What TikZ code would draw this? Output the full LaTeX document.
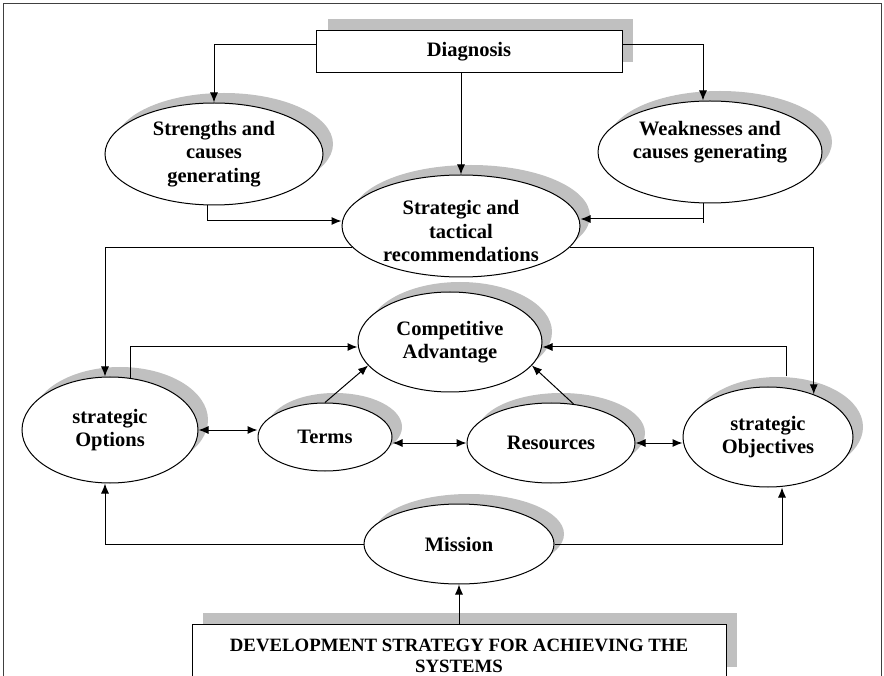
\documentclass[tikz,border=0pt]{standalone}
\usepackage{fontspec}
\setmainfont{Liberation Serif}
\usetikzlibrary{arrows.meta,shapes.geometric,calc}
\definecolor{shd}{RGB}{192,192,192}
\newcommand\shadowell[4]{\fill[shd] (#1+10,#2-10) ellipse [x radius=#3pt, y radius=#4pt];}
\begin{document}
\begin{tikzpicture}[x=1pt,y=-1pt,
  every node/.style={font=\fontsize{20.5}{23.5}\selectfont\bfseries, align=center, inner sep=0pt},
  ell/.style={draw, line width=1pt, fill=white, ellipse},
  boxnode/.style={draw, line width=1pt, fill=white, rectangle},
  conn/.style={line width=1pt},
  arr/.style={conn, -{Latex[length=10pt,width=8pt]}},
  darr/.style={conn, {Latex[length=10pt,width=8pt]}-{Latex[length=10pt,width=8pt]}},
  devfont/.style={font=\fontsize{18.8}{20.5}\selectfont\bfseries}
]
\useasboundingbox (0,0) rectangle (884,676);
% frame
\draw[line width=0.8pt, black!75] (3,676) -- (3,3) -- (881,3) -- (881,676);

% shadows
\fill[shd] (328,19) rectangle (633,62);
\shadowell{214}{154}{109}{51}
\shadowell{710}{152}{112}{51}
\shadowell{461}{226}{119}{51}
\shadowell{450}{342}{92}{50}
\shadowell{110}{430}{88}{53}
\shadowell{325}{437}{67}{34}
\shadowell{551}{443}{84}{40}
\shadowell{768}{437}{85}{50}
\shadowell{459}{544}{95}{40}
\fill[shd] (203,613) rectangle (737,667);

% nodes
\node[boxnode, minimum width=306pt, minimum height=42pt] (diag) at (469,52) {Diagnosis};
\node[ell, minimum width=218pt, minimum height=102pt] (str) at (214,154) {Strengths and\\causes\\generating};
\node[ell, minimum width=224pt, minimum height=102pt] (wk) at (710,152) {};
\node (wktxt) at (710,142) {Weaknesses and\\causes generating};
\node[ell, minimum width=238pt, minimum height=102pt] (strat) at (461,226) {};
\node (strattxt) at (461,231) {Strategic and\\tactical\\recommendations};
\node[ell, minimum width=184pt, minimum height=100pt] (comp) at (450,342) {Competitive\\Advantage};
\node[ell, minimum width=176pt, minimum height=106pt] (opt) at (110,430) {strategic\\Options};
\node[ell, minimum width=134pt, minimum height=68pt] (terms) at (325,437) {Terms};
\node[ell, minimum width=168pt, minimum height=80pt] (res) at (551,443) {Resources};
\node[ell, minimum width=170pt, minimum height=100pt] (obj) at (768,437) {strategic\\Objectives};
\node[ell, minimum width=190pt, minimum height=80pt] (mis) at (459,544) {Mission};
\node[boxnode, minimum width=534pt, minimum height=54pt] (dev) at (459,651) {};
\node[devfont] (devtxt) at (459,656) {DEVELOPMENT STRATEGY FOR ACHIEVING THE\\SYSTEMS};

% connectors
\draw[arr] ([yshift=7pt]diag.west) -| (str.north);
\draw[arr] ([yshift=7pt]diag.east) -| ([xshift=-7pt]wk.north);
\draw[arr] (diag.south -| strat.north) -- (strat.north);
\draw[arr] ([xshift=-7pt]str.south) |- ([yshift=5pt]strat.west);
\draw[conn] ([xshift=-7pt]wk.south) -- ([xshift=-7pt,yshift=-20pt]wk.south);
\draw[arr] ([xshift=-7pt]wk.south) |- ([yshift=7pt]strat.east);
\draw[arr] (strat.191) -| ([xshift=-5pt]opt.north);
\draw[arr] (strat.349) -| (obj.43);
\draw[arr] (opt.69) |- ([yshift=-5pt]comp.west);
\draw[arr] ([shift={(18pt,10pt)}]obj.north) |- ([yshift=-5pt]comp.east);
\draw[arr] (terms.north) -- (comp.196);
\draw[arr] (res.60) -- (comp.344);
\draw[darr] (opt.east) -- (opt.east -| terms.west);
\draw[darr] (res.west -| terms.east) -- (res.west);
\draw[darr] (res.east) -- (res.east -| obj.west);
\draw[arr] (mis.west) -| ([xshift=-5pt]opt.south);
\draw[arr] (mis.east) -| ([xshift=14pt]obj.south);
\draw[arr] (dev.north) -- (mis.south);
\end{tikzpicture}
\end{document}
